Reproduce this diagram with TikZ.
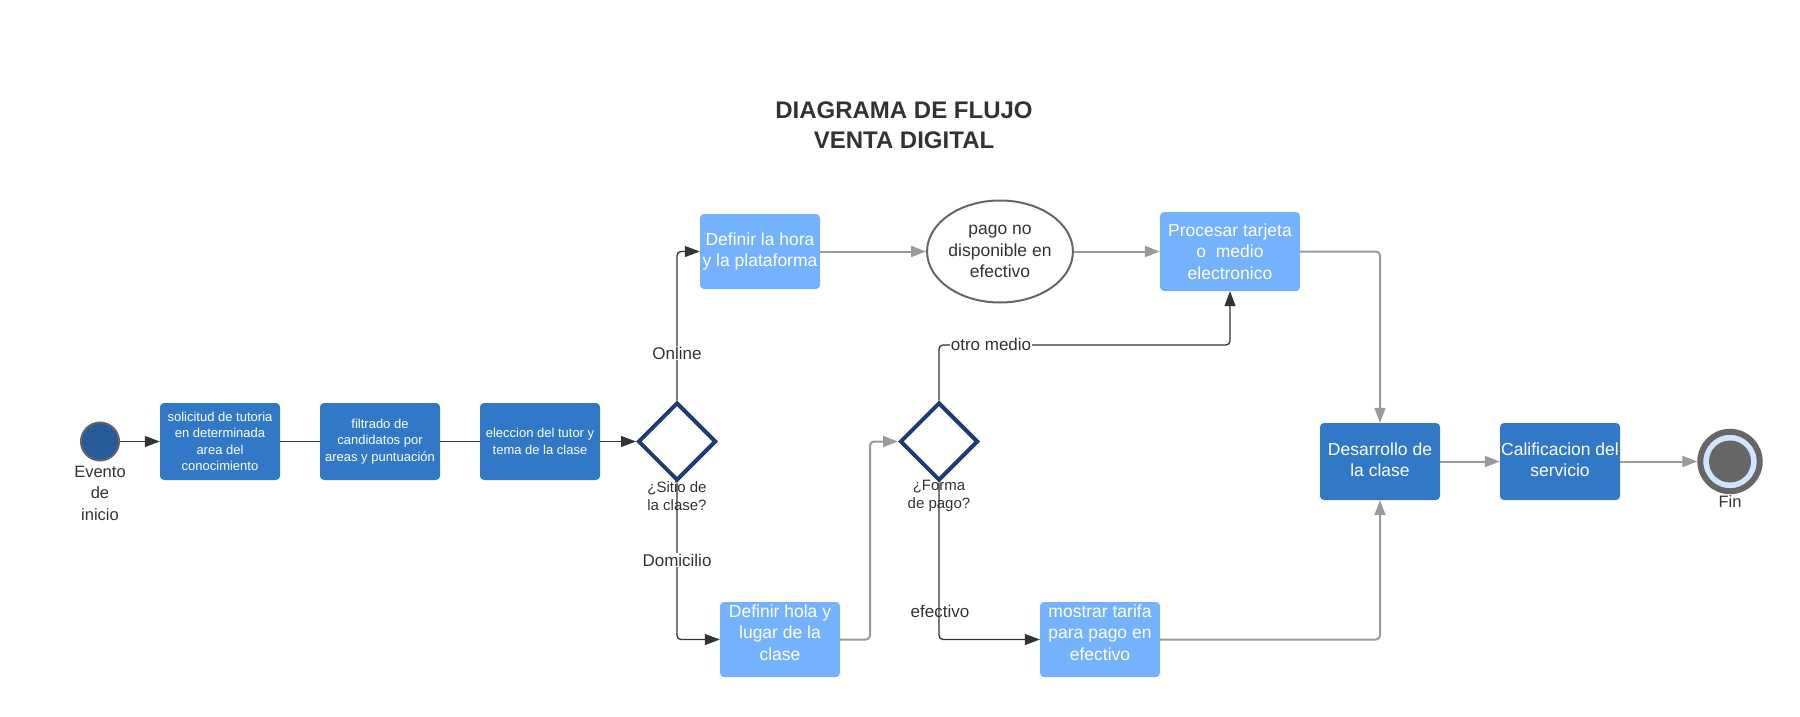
\documentclass[tikz,border=0pt]{standalone}
\usepackage{fontspec}
\setmainfont{Liberation Sans}
\usetikzlibrary{shapes.geometric,arrows.meta}
\definecolor{darkbox}{HTML}{3178C6}
\definecolor{lightbox}{HTML}{75B2FD}
\definecolor{navy}{HTML}{1D3D6E}
\definecolor{txt}{HTML}{333333}
\definecolor{grayline}{HTML}{9A9A9A}
\definecolor{startfill}{HTML}{265C99}
\definecolor{ringgray}{HTML}{666666}
\definecolor{ringblue}{HTML}{D0E4FF}
\begin{document}
\begin{tikzpicture}[x=1pt,y=-1pt,
  dbox/.style={fill=darkbox, rounded corners=4pt, text=white, align=center,
    minimum width=120pt, minimum height=77pt, inner sep=0pt},
  smalltext/.style={font=\fontsize{13}{16.5}\selectfont},
  bigtext/.style={font=\fontsize{17.5}{21.5}\selectfont},
  lbox/.style={fill=lightbox, rounded corners=4pt, text=white, align=center,
    minimum width=120pt, minimum height=75pt, inner sep=0pt, bigtext},
  boxtext/.style={text=white, align=center, inner sep=0pt, bigtext},
  gate/.style={diamond, draw=navy, line width=4pt, fill=white, minimum width=78pt,
    minimum height=78pt, inner sep=0pt, aspect=1},
  lbl/.style={text=txt, align=center, font=\fontsize{15}{18.3}\selectfont},
  edgelbl/.style={text=txt, font=\fontsize{17}{20}\selectfont, fill=white, inner sep=1pt},
  blkline/.style={draw=txt, line width=1.3pt, rounded corners=4pt},
  blk/.style={blkline, -{Triangle[length=15pt,width=11pt]}},
  gry/.style={draw=grayline, line width=2pt, rounded corners=4pt, -{Triangle[length=15pt,width=11pt]}},
]
\useasboundingbox (0,0) rectangle (1800,717);

% title
\node[font=\bfseries\fontsize{24}{30}\selectfont, text=txt, align=center] (title) at (904,125)
  {DIAGRAMA DE FLUJO\\VENTA DIGITAL};

% start event
\node[circle, fill=startfill, draw=ringgray, line width=2pt, minimum size=38pt, inner sep=0pt] (start) at (100,441.5) {};
\node[text=txt, align=center, font=\fontsize{16.5}{21.5}\selectfont] (startlbl) at (100,493) {Evento\\de\\inicio};

% first row of tasks
\node[dbox, smalltext] (box1) at (220,441.5) {solicitud de tutoria\\en determinada\\area del\\conocimiento};
\node[dbox, smalltext] (box2) at (380,441.5) {filtrado de\\candidatos por\\areas y puntuación};
\node[dbox, smalltext] (box3) at (540,441.5) {eleccion del tutor y\\tema de la clase};

% gateways
\node[gate] (d1) at (677,441.5) {};
\node[gate] (d2) at (939,441.5) {};

% upper branch
\node[lbox] (defHora) at (760,251.5) {Definir la hora\\y la plataforma};
\node[ellipse, draw=ringgray, line width=2pt, fill=white, minimum width=140pt, minimum height=102pt,
  inner sep=0pt, text=txt, align=center, bigtext] (ell) at (1000,251.5) {pago no\\disponible en\\efectivo};
\node[lbox, minimum width=140pt, minimum height=79pt] (proc) at (1230,251.5) {Procesar tarjeta\\o\ \ medio\\electronico};

% lower branch
\node[lbox] (defHola) at (780,639.5) {};
\node[boxtext] (defHolaT) at (780,632.5) {Definir hola y\\lugar de la\\clase};
\node[lbox] (mostrar) at (1100,639.5) {};
\node[boxtext] (mostrarT) at (1100,632.5) {mostrar tarifa\\para pago en\\efectivo};

% right side
\node[dbox] (des) at (1380,461.5) {};
\node[boxtext] (desT) at (1380,459.5) {Desarrollo de\\la clase};
\node[dbox] (calif) at (1560,461.5) {};
\node[boxtext] (califT) at (1560,459.5) {Calificacion del\\servicio};
\node[circle, draw=ringgray, line width=6pt, fill=ringblue, minimum size=59.4pt, inner sep=0pt] (fin) at (1730,461.5) {};
\node[circle, fill=ringgray, minimum size=42pt, inner sep=0pt] (finc) at (fin.center) {};
\node[text=txt, font=\fontsize{16.5}{20}\selectfont] (finlbl) at (1730,502) {Fin};

% connectors
\draw[blk] (start.east) -- (box1.west);
\draw[blkline] (box1.east) -- (box2.west);
\draw[blkline] (box2.east) -- (box3.west);
\draw[blk] (box3.east) -- (d1.west);
\draw[blk] (d1.north) |- (defHora.west);
\draw[blk] (d1.south) |- (defHola.west);
\draw[gry] (defHora.east) -- (ell.west);
\draw[gry] (ell.east) -- (proc.west);
\draw[gry] (proc.east) -| (des.north);
\coordinate (holaJog) at (870,639.5);
\draw[gry] (defHola.east) -- (holaJog) |- (d2.west);
\coordinate (omJog) at (939,345);
\draw[blk] (d2.north) -- (omJog) -| (proc.south);
\draw[blk] (d2.south) |- (mostrar.west);
\draw[gry] (mostrar.east) -| (des.south);
\draw[gry] (des.east) -- (calif.west);
\draw[gry] (calif.east) -- (fin.west);

% labels
\node[lbl] (d1lbl) at (677,496) {¿Sitio de\\la clase?};
\node[lbl] (d2lbl) at (939,496) {¿Forma\\de pago?};
\node[edgelbl] (online) at (677,353) {Online};
\node[edgelbl] (domicilio) at (677,560) {Domicilio};
\node[edgelbl] (otro) at (991,344) {otro medio};
\node[text=txt, font=\fontsize{17}{20}\selectfont] (efectivo) at (940,611) {efectivo};
\end{tikzpicture}
\end{document}
